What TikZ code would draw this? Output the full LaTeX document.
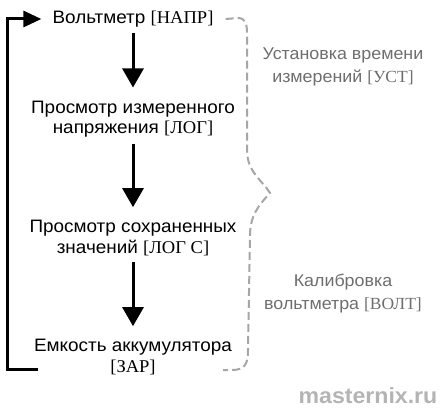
\documentclass[tikz,border=0pt]{standalone}
\usepackage{fontspec}
\setmainfont[FakeStretch=1.05]{Liberation Sans}
\newfontfamily\codefont[FakeStretch=1.03]{Liberation Serif}
\usetikzlibrary{arrows.meta,positioning}
\newcommand{\code}[1]{{\codefont[#1]}}
\definecolor{bracegray}{HTML}{A6A6A6}
\definecolor{notegray}{HTML}{6E6E6E}
\definecolor{wmgray}{HTML}{B4B4B4}
\tikzset{
  stage/.style={align=center, inner sep=0pt, font=\fontsize{18}{20.5}\selectfont},
  flow/.style={-{Triangle[length=19pt,width=21pt]}, line width=3pt},
  note/.style={align=center, inner sep=0pt, text=notegray, font=\fontsize{17}{23}\selectfont},
}
\begin{document}
\begin{tikzpicture}[x=1pt,y=-1pt]
  \useasboundingbox (0,0) rectangle (444,409);
  % menu items
  \node[stage] (volt) at (133,19) {Вольтметр \code{НАПР}};
  \node[stage] (log)  at (133,119) {Просмотр измеренного\\напряжения \code{ЛОГ}};
  \node[stage] (logc) at (133,238) {Просмотр сохраненных\\значений \code{ЛОГ С}};
  \node[stage] (zar)  at (133,357) {Емкость аккумулятора\\\code{ЗАР}};
  % steps down
  \draw[flow, shorten <=6pt, shorten >=13pt] (volt) -- (log);
  \draw[flow, shorten <=6pt, shorten >=13pt] (log) -- (logc);
  \draw[flow, shorten <=6pt, shorten >=13pt] (logc) -- (zar);
  % back to the top
  \coordinate (back) at (38,369);
  \draw[line width=3pt, -{Triangle[length=18pt,width=16pt]}]
    (back) -- (7,369) |- ([xshift=-11pt]volt.west);
  % dashed brace
  \coordinate (bend) at (223,370);
  \draw[bracegray, line width=2pt, dash pattern=on 8pt off 4pt]
    ([xshift=12pt]volt.east) -- (238,18) .. controls (246,18) and (247,25) .. (247,34)
    -- (247,150) .. controls (247,172) and (262,180) .. (270,193)
    .. controls (258,206) and (250,216) .. (250,236)
    -- (248,350) .. controls (248,364) and (245,370) .. (232,370) -- (bend);
  % side notes
  \node[note] (ust) at (343,67) {Установка времени\\измерений \code{УСТ}};
  \node[note] (cal) at (343,294) {Калибровка\\вольтметра \code{ВОЛТ}};
  \node[text=wmgray, inner sep=0pt, font=\fontsize{22}{22}\bfseries\selectfont] (site) at (368,396) {masternix.ru};
\end{tikzpicture}
\end{document}
